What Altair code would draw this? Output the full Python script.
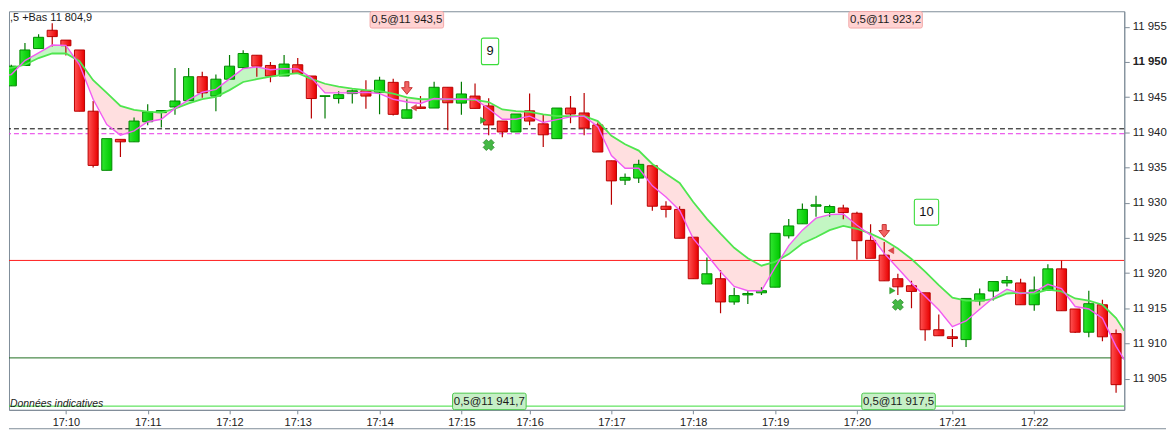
import altair as alt
import pandas as pd

# ---------------- data ----------------
candle_idx = list(range(83))
opens = [11948.6, 11946.6, 11949.5, 11951.9, 11954.5, 11953.1, 11951.7, 11943.0, 11934.6, 11939.0,
         11938.65, 11941.5, 11942.8, 11943.6, 11944.5, 11947.9, 11945.15, 11947.55, 11949.2, 11950.95,
         11949.5, 11948.0, 11949.6, 11948.0, 11945.1, 11944.8, 11945.5, 11945.9, 11945.7, 11947.1,
         11942.0, 11943.6, 11943.45, 11946.4, 11944.15, 11945.15, 11943.75, 11941.6, 11940.05, 11943.05,
         11941.2, 11939.1, 11943.45, 11942.75, 11941.05, 11935.95, 11933.2, 11933.5, 11935.25, 11929.5,
         11929.05, 11925.1, 11918.45, 11919.2, 11915.9, 11916.9, 11917.2, 11918.0, 11925.3, 11927.0,
         11929.5, 11928.6, 11929.25, 11928.5, 11924.65, 11922.55, 11919.2, 11918.2, 11917.2, 11911.95,
         11910.95, 11910.55, 11916.05, 11917.45, 11918.6, 11918.6, 11915.5, 11917.55, 11920.6, 11914.9,
         11911.6, 11915.5, 11911.4]
highs = [11948.8, 11949.6, 11952.7, 11953.95, 11955.5, 11953.1, 11951.7, 11944.45, 11939.1, 11939.0,
         11942.1, 11944.0, 11943.1, 11949.15, 11949.15, 11948.6, 11948.2, 11951.0, 11951.65, 11950.95,
         11950.0, 11951.0, 11950.55, 11948.0, 11945.2, 11945.85, 11946.1, 11947.4, 11947.9, 11947.6,
         11944.7, 11945.15, 11947.2, 11946.4, 11947.2, 11946.95, 11944.85, 11941.6, 11942.6, 11945.5,
         11942.5, 11943.45, 11945.15, 11945.6, 11941.4, 11935.95, 11934.15, 11936.1, 11935.25, 11930.2,
         11929.5, 11925.1, 11922.2, 11920.45, 11917.9, 11917.6, 11918.0, 11925.65, 11927.7, 11929.9,
         11931.0, 11929.7, 11929.7, 11928.7, 11926.95, 11924.4, 11919.9, 11918.9, 11917.2, 11914.1,
         11912.05, 11916.4, 11917.8, 11918.8, 11919.6, 11919.2, 11919.5, 11921.25, 11921.8, 11914.9,
         11917.5, 11916.2, 11912.0]
lows = [11946.5, 11946.6, 11949.5, 11951.9, 11952.2, 11950.9, 11943.0, 11935.0, 11934.6, 11936.5,
        11938.65, 11941.0, 11940.7, 11942.5, 11944.5, 11944.9, 11943.0, 11947.55, 11949.0, 11947.9,
        11947.1, 11948.0, 11948.35, 11941.95, 11941.95, 11944.1, 11944.1, 11943.35, 11942.55, 11942.4,
        11942.0, 11943.4, 11943.45, 11940.3, 11942.5, 11943.4, 11939.6, 11939.3, 11940.05, 11941.0,
        11937.9, 11939.1, 11941.3, 11939.6, 11937.2, 11929.7, 11932.5, 11932.8, 11928.85, 11927.9,
        11924.95, 11919.2, 11918.45, 11914.3, 11915.5, 11915.6, 11916.9, 11918.0, 11924.9, 11927.0,
        11928.0, 11928.0, 11927.65, 11921.9, 11922.1, 11918.9, 11916.9, 11915.0, 11910.4, 11911.1,
        11909.5, 11909.5, 11915.4, 11916.1, 11918.1, 11915.5, 11914.65, 11917.55, 11914.65, 11911.5,
        11910.9, 11910.3, 11903.0]
closes = [11946.7, 11949.4, 11951.7, 11953.5, 11953.6, 11952.3, 11943.0, 11935.3, 11939.1, 11938.65,
          11941.6, 11942.9, 11943.1, 11944.45, 11947.9, 11945.6, 11947.55, 11949.4, 11951.2, 11949.4,
          11948.0, 11949.7, 11948.35, 11944.8, 11945.2, 11945.35, 11945.9, 11945.15, 11947.4, 11942.55,
          11943.2, 11943.4, 11946.4, 11944.2, 11945.45, 11943.4, 11941.05, 11940.05, 11942.6, 11941.6,
          11939.65, 11943.45, 11942.6, 11940.6, 11937.2, 11933.1, 11933.6, 11935.45, 11929.5, 11929.05,
          11924.95, 11919.2, 11919.9, 11915.9, 11916.8, 11917.1, 11917.5, 11925.65, 11926.7, 11929.05,
          11929.7, 11929.45, 11928.6, 11924.6, 11922.1, 11918.9, 11918.05, 11917.4, 11911.95, 11911.1,
          11910.7, 11916.4, 11917.05, 11918.8, 11918.95, 11915.5, 11917.6, 11920.6, 11914.65, 11911.6,
          11915.65, 11910.95, 11904.15]

ma_x = list(range(83)) + [82.6]
ma_fast = [11947.9, 11948.2, 11950.2, 11951.3, 11952.4, 11952.35, 11949.6, 11944.7, 11941.1, 11939.6,
           11940.2, 11941.5, 11941.85, 11943.4, 11944.6, 11945.7, 11946.1, 11947.6, 11949.05, 11949.3,
           11948.9, 11949.05, 11949.0, 11947.75, 11945.6, 11945.6, 11945.6, 11945.7, 11945.5, 11944.7,
           11944.3, 11944.1, 11944.8, 11944.7, 11944.7, 11944.7, 11943.35, 11941.85, 11941.85, 11942.3,
           11941.4, 11941.8, 11942.2, 11942.3, 11940.8, 11936.7, 11934.9, 11934.9, 11932.4, 11930.8,
           11928.9, 11924.9, 11922.6, 11920.2, 11918.1, 11917.5, 11917.5, 11920.8, 11923.9, 11926.1,
           11927.8, 11928.3, 11928.4, 11926.8, 11925.4, 11922.8, 11920.7, 11918.55, 11916.7, 11914.8,
           11912.4, 11913.2, 11914.85, 11916.5, 11917.7, 11917.1, 11917.3, 11918.4, 11917.8, 11915.25,
           11914.9, 11913.6, 11909.6, 11907.7]
ma_slow = [11949.05, 11949.15, 11949.6, 11950.55, 11951.2, 11951.2, 11950.1, 11947.4, 11945.6, 11943.75,
           11943.2, 11942.95, 11942.8, 11943.35, 11944.1, 11944.7, 11945.05, 11946.0, 11947.15, 11947.55,
           11947.9, 11948.2, 11948.4, 11947.6, 11946.9, 11946.5, 11946.2, 11946.0, 11945.85, 11945.5,
           11944.95, 11944.7, 11944.7, 11944.7, 11944.7, 11944.6, 11944.3, 11943.25, 11943.0, 11942.9,
           11942.55, 11942.3, 11942.3, 11942.3, 11941.6, 11939.5, 11938.3, 11937.4, 11935.5, 11934.1,
           11932.8, 11930.1, 11927.7, 11925.6, 11923.6, 11922.1, 11921.05, 11921.6, 11922.7, 11924.2,
           11925.1, 11926.1, 11926.7, 11926.3, 11925.6, 11924.7, 11923.5, 11922.0, 11920.2, 11918.3,
           11916.5, 11916.1, 11916.1, 11916.3, 11917.1, 11917.2, 11917.1, 11917.65, 11917.4, 11916.4,
           11916.1, 11915.5, 11913.6, 11911.8]

tick_idx = [5, 11, 17, 22, 28, 34, 39, 45, 51, 57, 63, 70, 76]
tick_lab = ["17:10", "17:11", "17:12", "17:13", "17:14", "17:15", "17:16",
            "17:17", "17:18", "17:19", "17:20", "17:21", "17:22"]
y_ticks = [11905, 11910, 11915, 11920, 11925, 11930, 11935, 11940, 11945, 11950, 11955]

red_level = [11921.8]
dark_level = [11907.95]
light_level = [11901.1]
black_dash_level = [11940.5]
magenta_dash_level = [11939.8]

arrow_idx = [30, 65]
arrow_p = [11946.3, 11926.0]
cross_idx = [36, 66]
cross_p = [11938.2, 11915.5]
sellmark_idx = [30.5, 65.5]
sellmark_p = [11943.5, 11923.2]
buymark_idx = [35.6, 65.6]
buymark_p = [11941.7, 11917.5]
tradeno_idx = [36.1, 68.1]
tradeno_p = [11951.5, 11928.65]
tradeno_txt = ["9", "10"]
sell_lbl_idx = [30.0, 65.1]
sell_lbl = ["0,5@11 943,5", "0,5@11 923,2"]
buy_lbl_idx = [36.05, 66.05]
buy_lbl = ["0,5@11 941,7", "0,5@11 917,5"]
top_note_txt = [",5 +Bas 11 804,9"]
bottom_note_txt = ["Données indicatives"]

# ---------------- tables ----------------
candles = pd.DataFrame({"i": candle_idx, "o": opens, "h": highs, "l": lows, "c": closes})
ma = pd.DataFrame({"i": ma_x, "fast": ma_fast, "slow": ma_slow})

# fill table: add the crossing points of the two averages so the shading flips exactly there
rows = []
for k in range(len(ma_x)):
    rows.append({"i": ma_x[k], "lo": ma_slow[k], "hi": ma_fast[k]})
    if k < len(ma_x) - 1:
        d0 = ma_fast[k] - ma_slow[k]
        d1 = ma_fast[k + 1] - ma_slow[k + 1]
        if d0 * d1 < 0:
            t = d0 / (d0 - d1)
            xc = ma_x[k] + t * (ma_x[k + 1] - ma_x[k])
            vc = ma_slow[k] + t * (ma_slow[k + 1] - ma_slow[k])
            rows.append({"i": xc, "lo": vc, "hi": vc})
fill = pd.DataFrame(rows)

W, H = 1122, 401
FONT = "Liberation Sans"
GRAY = "#7f8c98"

xs = alt.Scale(domain=[0.83, 82.6], nice=False, zero=False)
ys = alt.Scale(domain=[11900.57, 11957.2], nice=False, zero=False)

lab_expr = "[" + ",".join("'%s'" % s for s in tick_lab) + "][indexof([" + \
    ",".join(str(v) for v in tick_idx) + "], datum.value)]"

X = alt.X("i:Q", scale=xs, axis=alt.Axis(values=tick_idx, labelExpr=lab_expr, title=None, grid=False,
                                         tickSize=4, tickColor=GRAY, domainColor=GRAY, labelFont=FONT,
                                         labelFontSize=11, labelColor="#1a1a1a", labelPadding=3,
                                         labelFlush=False))


def Y(field):
    return alt.Y(field, scale=ys, axis=alt.Axis(
        orient="right", values=y_ticks, title=None, grid=False, tickSize=5, tickColor=GRAY,
        domainColor=GRAY, labelFont=FONT, labelFontSize=11.5, labelColor="#222222", labelPadding=3,
        labelExpr="replace(format(datum.value, ','), ',', ' ')",
        labelFontWeight={"condition": {"test": "datum.value == 11950", "value": "bold"}, "value": "normal"}))


def rrect(hw, hh, r):
    return (f"M {-hw + r} {-hh} L {hw - r} {-hh} Q {hw} {-hh} {hw} {-hh + r} L {hw} {hh - r} "
            f"Q {hw} {hh} {hw - r} {hh} L {-hw + r} {hh} Q {-hw} {hh} {-hw} {hh - r} "
            f"L {-hw} {-hh + r} Q {-hw} {-hh} {-hw + r} {-hh} Z")


base_fill = alt.Chart(fill)
green_fill = base_fill.transform_calculate(top="max(datum.hi, datum.lo)").mark_area(
    color="#c3f6c3", clip=True).encode(x=X, y=Y("lo:Q"), y2="top:Q")
pink_fill = base_fill.transform_calculate(bot="min(datum.hi, datum.lo)").mark_area(
    color="#ffdfe0", clip=True).encode(x=X, y=Y("lo:Q"), y2="bot:Q")


def hline(vals, color, dash=None):
    kw = dict(color=color, strokeWidth=1, clip=True)
    if dash:
        kw["strokeDash"] = dash
    return alt.Chart(pd.DataFrame({"v": vals})).mark_rule(**kw).encode(y=Y("v:Q"))


rules = [
    hline(red_level, "#ff1a1a"),
    hline(dark_level, "#1f6e1f"),
    hline(light_level, "#3ade3a"),
    hline(black_dash_level, "#000000", [5, 3]),
    hline(magenta_dash_level, "#e632e6", [5, 3]),
]

cbase = alt.Chart(candles).transform_calculate(
    up="datum.c >= datum.o", x0="datum.i - 0.37", x1="datum.i + 0.37")
wick_g = cbase.transform_filter("datum.up").mark_rule(color="#007a00", strokeWidth=1.2, clip=True).encode(
    x=X, y=Y("l:Q"), y2="h:Q")
wick_r = cbase.transform_filter("!datum.up").mark_rule(color="#b80000", strokeWidth=1.2, clip=True).encode(
    x=X, y=Y("l:Q"), y2="h:Q")
grad_g = alt.LinearGradient(gradient="linear", x1=0, x2=1, y1=0, y2=0,
                            stops=[alt.GradientStop(color="#2fe62f", offset=0),
                                   alt.GradientStop(color="#00c800", offset=1)])
grad_r = alt.LinearGradient(gradient="linear", x1=0, x2=1, y1=0, y2=0,
                            stops=[alt.GradientStop(color="#ff5252", offset=0),
                                   alt.GradientStop(color="#e80000", offset=1)])
body_g = cbase.transform_filter("datum.up").mark_rect(fill=grad_g, stroke="#008a00", strokeWidth=1,
                                                      clip=True).encode(
    x=alt.X("x0:Q", scale=xs), x2="x1:Q", y=Y("o:Q"), y2="c:Q")
body_r = cbase.transform_filter("!datum.up").mark_rect(fill=grad_r, stroke="#b80000", strokeWidth=1,
                                                       clip=True).encode(
    x=alt.X("x0:Q", scale=xs), x2="x1:Q", y=Y("o:Q"), y2="c:Q")

line_slow = alt.Chart(ma).mark_line(color="#4fe64f", strokeWidth=1.8, clip=True).encode(x=X, y=Y("slow:Q"))
line_fast = alt.Chart(ma).mark_line(color="#f25cf2", strokeWidth=1.4, clip=True).encode(x=X, y=Y("fast:Q"))

arrow_path = "M -0.32 -1 L 0.32 -1 L 0.32 -0.05 L 0.85 -0.05 L 0 1 L -0.85 -0.05 L -0.32 -0.05 Z"
arrows = alt.Chart(pd.DataFrame({"i": arrow_idx, "p": arrow_p})).mark_point(
    shape=arrow_path, size=161, filled=True, fill="#f26262", stroke="#c83232", strokeWidth=1,
    opacity=1).encode(x=X, y=Y("p:Q"))
crosses = alt.Chart(pd.DataFrame({"i": cross_idx, "p": cross_p})).mark_point(
    shape="cross", angle=45, size=125, filled=True, fill="#45b845", stroke="#2e8e2e", strokeWidth=0.8,
    opacity=1).encode(x=X, y=Y("p:Q"))
sellmarks = alt.Chart(pd.DataFrame({"i": sellmark_idx, "p": sellmark_p})).mark_point(
    shape="triangle-left", size=40, filled=True, fill="#e04848", stroke="#c03030", strokeWidth=0.5,
    opacity=1).encode(x=X, y=Y("p:Q"))
buymarks = alt.Chart(pd.DataFrame({"i": buymark_idx, "p": buymark_p})).mark_point(
    shape="triangle-right", size=40, filled=True, fill="#36b836", stroke="#238a23", strokeWidth=0.5,
    opacity=1).encode(x=X, y=Y("p:Q"))

tradeno_layers = []
box_sizes = [(0.65, 713), (0.94, 676)]
for k in range(len(tradeno_txt)):
    df = pd.DataFrame({"i": [tradeno_idx[k]], "p": [tradeno_p[k]], "t": [tradeno_txt[k]]})
    hw, sz = box_sizes[k]
    tradeno_layers.append(alt.Chart(df).mark_point(
        shape=rrect(hw, 1, 0.15), size=sz, filled=True, fill="#ffffff", stroke="#3bdc3b",
        strokeWidth=1.1, opacity=1).encode(x=X, y=Y("p:Q")))
    tradeno_layers.append(alt.Chart(df).mark_text(
        font=FONT, fontSize=13, color="#111111", baseline="middle", align="center").encode(
        x=X, y=Y("p:Q"), text="t:N"))

lbl_shape = rrect(1, 0.224, 0.05)
sell_df = pd.DataFrame({"i": sell_lbl_idx, "t": sell_lbl})
buy_df = pd.DataFrame({"i": buy_lbl_idx, "t": buy_lbl})
sell_box = alt.Chart(sell_df).mark_point(shape=lbl_shape, size=5476, filled=True, fill="#ffd2d2",
                                         stroke="#f2a8a8", strokeWidth=1, opacity=1).encode(
    x=X, y=alt.value(8.6))
sell_txt = alt.Chart(sell_df).mark_text(font=FONT, fontSize=11.5, color="#1a1a1a", baseline="middle").encode(
    x=X, y=alt.value(9.2), text="t:N")
buy_box = alt.Chart(buy_df).mark_point(shape=lbl_shape, size=5476, filled=True, fill="#c6efc6",
                                       stroke="#4cc84c", strokeWidth=1, opacity=1).encode(
    x=X, y=alt.value(392.5))
buy_txt = alt.Chart(buy_df).mark_text(font=FONT, fontSize=11.5, color="#1a1a1a", baseline="middle").encode(
    x=X, y=alt.value(393), text="t:N")

top_note = alt.Chart(pd.DataFrame({"t": top_note_txt})).mark_text(
    font=FONT, fontSize=11, color="#1a1a1a", align="left", baseline="top").encode(
    x=alt.value(1), y=alt.value(1), text="t:N")
bottom_note = alt.Chart(pd.DataFrame({"t": bottom_note_txt})).mark_text(
    font=FONT, fontSize=10.5, fontStyle="italic", color="#1a1a1a", align="left",
    baseline="alphabetic").encode(x=alt.value(1), y=alt.value(398), text="t:N")

frame_bottom = alt.Chart(pd.DataFrame({"k": [0]})).mark_rule(color=GRAY, strokeWidth=1).encode(
    x=alt.value(0), x2=alt.value(1164), y=alt.value(420))

chart = alt.layer(
    green_fill, pink_fill, *rules,
    wick_g, wick_r, body_g, body_r,
    line_slow, line_fast,
    arrows, crosses, sellmarks, buymarks,
    *tradeno_layers,
    sell_box, sell_txt, buy_box, buy_txt,
    top_note, bottom_note, frame_bottom,
).properties(width=W, height=H, padding=0, background="white").configure_view(
    stroke=GRAY, strokeWidth=1)

chart.save("out.html", embed_options={"renderer": "svg", "actions": False})
